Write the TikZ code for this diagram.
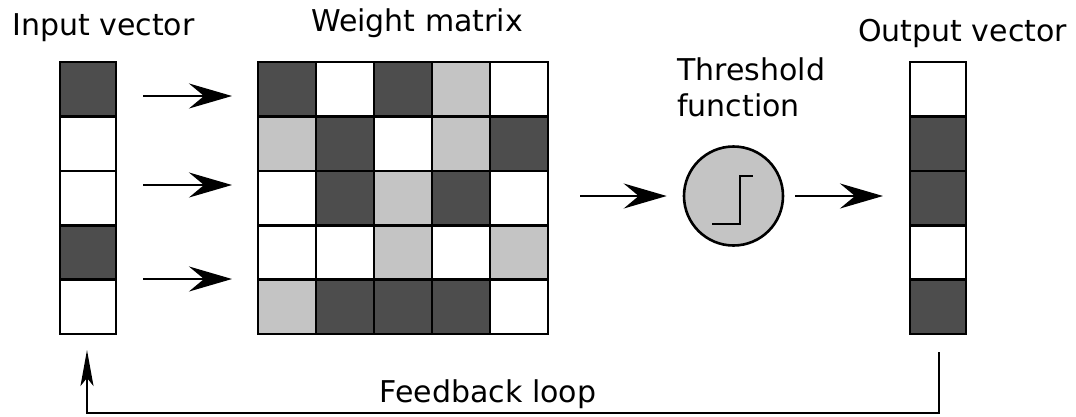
\documentclass[tikz,border=0pt]{standalone}
\usepackage{fontspec}
\setmainfont{DejaVu Sans}
\usetikzlibrary{arrows.meta}

\definecolor{cellDark}{HTML}{4D4D4D}
\definecolor{cellLight}{HTML}{C4C4C4}

\tikzset{
  cellbox/.style={draw=black, line width=2.6pt, minimum height=54.4pt, inner sep=0pt},
  vcell/.style={cellbox, minimum width=56pt},
  mcell/.style={cellbox, minimum width=58pt},
  flow/.style={line width=2.6pt, -{Stealth[length=43pt,width=25pt,inset=15pt]}},
  feedback/.style={line width=1.8pt, -{Stealth[length=36pt,width=13pt,inset=8pt]}},
  caption/.style={inner sep=0pt, font=\fontsize{30}{36}\selectfont}
}

\begin{document}
\begin{tikzpicture}[x=1pt, y=-1pt]
\useasboundingbox (0,0) rectangle (1076,416);

% input vector
\foreach \f [count=\i] in {cellDark,white,white,cellDark,white}
  \node[vcell, fill=\f] (in\i) at (88, {62+54.4*(\i-0.5)}) {};

% weight matrix
\foreach \row [count=\r] in {{cellDark,white,cellDark,cellLight,white},
                             {cellLight,cellDark,white,cellLight,cellDark},
                             {white,cellDark,cellLight,cellDark,white},
                             {white,white,cellLight,white,cellLight},
                             {cellLight,cellDark,cellDark,cellDark,white}}
  \foreach \f [count=\c] in \row
    \node[mcell, fill=\f] (w\r\c) at ({258+58*(\c-0.5)}, {62+54.4*(\r-0.5)}) {};

% output vector
\foreach \f [count=\i] in {white,cellDark,cellDark,white,cellDark}
  \node[vcell, fill=\f] (out\i) at (938, {62+54.4*(\i-0.5)}) {};

% threshold unit
\node[circle, draw=black, line width=2.6pt, fill=cellLight, minimum size=99pt, inner sep=0pt] (thr) at (733.5,196) {};
\draw[line width=2.6pt] ([shift={(-21.5,28)}]thr.center) -- ++(28,0) -- ++(0,-48) -- ++(13,0);

% labels
\node[caption, anchor=base west] (lin) at (12,35) {Input vector};
\node[caption, anchor=base] (lw) at (417,31) {Weight matrix};
\node[caption, anchor=base west] (lout) at (858,41) {Output vector};
\node[caption, anchor=base west, align=left] (lthr) at (677,116) {Threshold\\function};
\node[caption, anchor=base] (lfb) at (488,402) {Feedback loop};

% arrows
\foreach \y [count=\k] in {96,185,279} {
  \coordinate (s\k) at (143,\y);
  \coordinate (t\k) at (232,\y);
  \draw[flow] (s\k) -- (t\k);
}
\coordinate (ms) at (580,196);
\coordinate (os) at (795,196);
\coordinate (oe) at (883,196);
\draw[flow] (ms) -- ([xshift=-16pt]thr.west);
\draw[flow] (os) -- (oe);

% feedback loop
\coordinate (fbs) at (939,352);
\coordinate (fbe) at (87,350);
\draw[feedback] (fbs) -- (939,413) -| (fbe);
\end{tikzpicture}
\end{document}
